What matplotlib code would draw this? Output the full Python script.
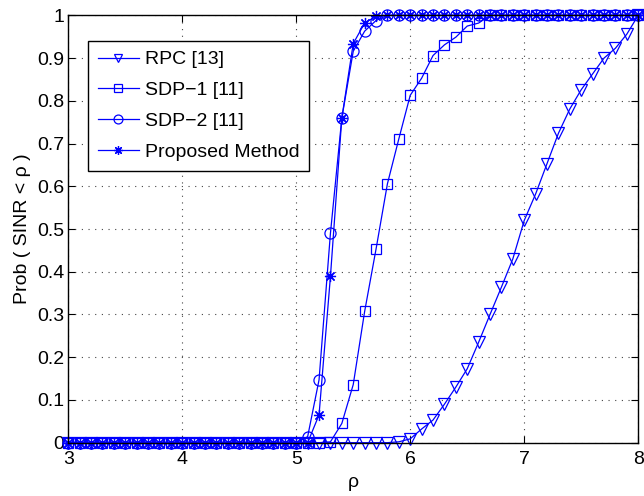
import numpy as np
import matplotlib
matplotlib.use("Agg")
import matplotlib.pyplot as plt

plt.rcParams['font.family'] = ['Liberation Sans', 'DejaVu Sans']

rho = np.round(np.arange(3.0, 8.0001, 0.1), 1)

rpc_tail = [0.0, 0.002, 0.009, 0.032, 0.053, 0.09, 0.13, 0.173, 0.235, 0.30, 0.364,
            0.43, 0.52, 0.582, 0.653, 0.724, 0.781, 0.826, 0.863, 0.90, 0.923, 0.956, 1.0]
rpc = [0.0] * (len(rho) - len(rpc_tail)) + rpc_tail  # from 5.8 onwards

sdp1_mid = [0.0, 0.002, 0.045, 0.136, 0.307, 0.453, 0.606, 0.711, 0.813, 0.853,
            0.906, 0.931, 0.949, 0.975, 0.982]  # 5.2 .. 6.6
sdp1 = [0.0] * 22 + sdp1_mid + [1.0] * (len(rho) - 22 - len(sdp1_mid))

sdp2_mid = [0.0, 0.014, 0.147, 0.49, 0.76, 0.916, 0.963, 0.988]  # 5.0 .. 5.7
sdp2 = [0.0] * 20 + sdp2_mid + [1.0] * (len(rho) - 20 - len(sdp2_mid))

prop_mid = [0.0, 0.0, 0.065, 0.389, 0.76, 0.934, 0.982, 0.998]  # 5.0 .. 5.7
prop = [0.0] * 20 + prop_mid + [1.0] * (len(rho) - 20 - len(prop_mid))

labels = ['RPC [13]', 'SDP\u22121 [11]', 'SDP\u22122 [11]', 'Proposed Method']
series = [rpc, sdp1, sdp2, prop]
markers = ['v', 's', 'o', (8, 2, 0)]
msizes = [8, 7, 8, 8]

fig = plt.figure(figsize=(6.44, 4.96), dpi=100)
ax = fig.add_axes([0.106, 0.1075, 0.885, 0.8615])

for y, lab, m, ms in zip(series, labels, markers, msizes):
    ax.plot(rho, y, color='blue', lw=0.9, marker=m, ms=ms, mfc='none',
            mec='blue', mew=0.9, label=lab, clip_on=False)

ax.set_xlim(3, 8)
ax.set_ylim(0, 1)
ax.set_xticks([3, 4, 5, 6, 7, 8])
yt = np.round(np.arange(0, 1.0001, 0.1), 1)
ax.set_yticks(yt)
ax.set_yticklabels(['0'] + ['%.1f' % v for v in yt[1:-1]] + ['1'])
ax.tick_params(direction='in', top=True, right=True, length=5, width=0.8,
               labelsize=14, pad=3)
ax.tick_params(axis='x', pad=6)
ax.grid(True, linestyle=(0, (1, 5)), color='#444444', linewidth=0.8)
for s in ax.spines.values():
    s.set_linewidth(1.0)
ax.set_xlabel('\u03c1', fontsize=14, labelpad=4)
ax.set_ylabel('Prob ( SINR < \u03c1 )', fontsize=14, labelpad=4)

leg = ax.legend(loc='upper left', bbox_to_anchor=(0.035, 0.94), fontsize=14,
                frameon=True, fancybox=False, edgecolor='black', framealpha=1,
                handlelength=2.1, borderpad=0.5, labelspacing=0.68,
                handletextpad=0.3, markerscale=0.8, borderaxespad=0)
leg.get_frame().set_linewidth(1.0)

fig.savefig('out.png', dpi=100)
